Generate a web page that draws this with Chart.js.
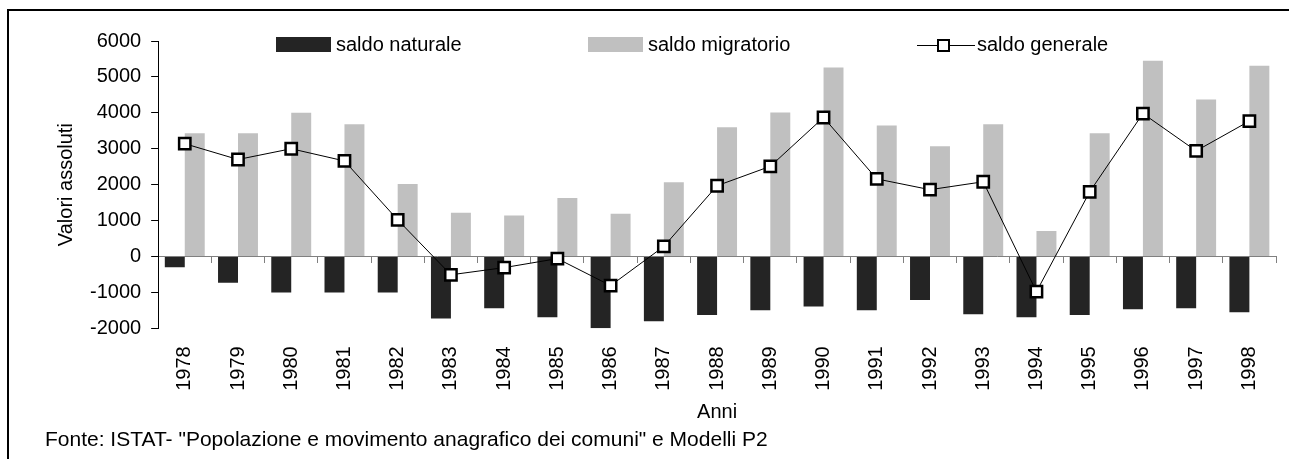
<!DOCTYPE html>
<html>
<head>
<meta charset="utf-8">
<script src="https://cdn.jsdelivr.net/npm/chart.js@4.4.1/dist/chart.umd.min.js"></script>
<style>
  body { margin: 0; background: #fff; }
  #wrap { position: relative; width: 1289px; height: 459px; overflow: hidden; background: #fff; }
  #cornice { position: absolute; left: 7px; top: 9px; width: 1400px; height: 600px; border: 2px solid #000; pointer-events: none; }
  .leg-item { position: absolute; top: 0; font-family: "Liberation Sans", Arial, sans-serif; font-size: 20px; color: #000; }
  .leg-box { position: absolute; top: 37px; width: 55px; height: 15px; }
  .leg-line { position: absolute; top: 45px; width: 58px; height: 1px; background: #000; }
  .leg-mark { position: absolute; top: 39px; left: 20px; width: 9px; height: 9px; border: 2.5px solid #000; background: #fff; }
  .leg-text { position: absolute; top: 34px; line-height: 20px; white-space: nowrap; }
</style>
</head>
<body>
<div id="wrap">
  <canvas id="grafico" width="1289" height="459"></canvas>
  <div id="legenda"></div>
  <div id="cornice"></div>
</div>
<script>
// dati
const anni = ['1978', '1979', '1980', '1981', '1982', '1983', '1984', '1985', '1986', '1987', '1988',
              '1989', '1990', '1991', '1992', '1993', '1994', '1995', '1996', '1997', '1998'];
const saldoNaturale = [-300, -730, -1000, -1000, -1000, -1730, -1440, -1690, -2000, -1800, -1630,
                       -1500, -1390, -1500, -1210, -1610, -1690, -1630, -1470, -1440, -1550];
const saldoMigratorio = [3430, 3430, 4000, 3680, 2020, 1220, 1140, 1630, 1190, 2070, 3600,
                         4010, 5260, 3650, 3070, 3680, 710, 3430, 5450, 4370, 5310];
const saldoGenerale = [3140, 2700, 3000, 2660, 1020, -510, -310, -60, -810, 280, 1970,
                       2510, 3870, 2160, 1860, 2080, -980, 1800, 3980, 2940, 3770];
const fonte = 'Fonte: ISTAT- "Popolazione e movimento anagrafico dei comuni" e Modelli P2';

Chart.defaults.font.family = '"Liberation Sans", Arial, sans-serif';
Chart.defaults.font.size = 20;
Chart.defaults.color = '#000';

const ctx = document.getElementById('grafico').getContext('2d');
const grafico = new Chart(ctx, {
    type: 'bar',
    data: {
        labels: anni,
        datasets: [
            {
                label: 'saldo naturale',
                data: saldoNaturale,
                backgroundColor: '#242424',
                borderWidth: 0,
                categoryPercentage: 0.75,
                barPercentage: 1,
                order: 1
            },
            {
                label: 'saldo migratorio',
                data: saldoMigratorio,
                backgroundColor: '#c0c0c0',
                borderWidth: 0,
                categoryPercentage: 0.75,
                barPercentage: 1,
                order: 1
            },
            {
                type: 'line',
                label: 'saldo generale',
                data: saldoGenerale,
                borderColor: '#000',
                borderWidth: 1,
                tension: 0,
                pointStyle: 'rect',
                pointRadius: 8,
                pointBorderWidth: 2.5,
                pointBackgroundColor: '#fff',
                pointBorderColor: '#000',
                order: 0
            }
        ]
    },
    options: {
        responsive: false,
        animation: false,
        devicePixelRatio: 1,
        layout: { padding: { left: 45, right: 13, top: 41, bottom: 6 } },
        plugins: {
            legend: { display: false },
            tooltip: { enabled: false },
            subtitle: {
                display: true,
                text: fonte,
                position: 'bottom',
                align: 'start',
                font: { size: 21, weight: 'normal' },
                padding: { top: 3, bottom: 0 }
            }
        },
        scales: {
            x: {
                grid: { display: false, drawTicks: true, tickLength: 8 },
                border: { display: false },
                ticks: { minRotation: 90, maxRotation: 90, autoSkip: false, padding: 10 },
                title: { display: true, text: 'Anni', padding: { top: 0, bottom: 0 } }
            },
            asseZero: {
                axis: 'x',
                type: 'category',
                position: { y: 0 },
                offset: true,
                grid: { offset: true, drawOnChartArea: false, color: '#808080', tickLength: 6 },
                border: { color: '#808080' },
                ticks: { display: false }
            },
            y: {
                min: -2000,
                max: 6000,
                ticks: { stepSize: 1000, padding: 10, callback: v => String(v) },
                grid: { drawOnChartArea: false, color: '#000', tickLength: 7 },
                border: { color: '#000' },
                title: { display: true, text: 'Valori assoluti', padding: { top: 9, bottom: 2 } }
            }
        }
    }
});

// legenda HTML costruita dai dataset
const posLegenda = [276, 588, 917];
const legenda = document.getElementById('legenda');
grafico.data.datasets.forEach((ds, i) => {
    const item = document.createElement('div');
    item.className = 'leg-item';
    item.style.left = posLegenda[i] + 'px';
    if (ds.type === 'line') {
        item.innerHTML = '<div class="leg-line" style="left:0"></div><div class="leg-mark"></div>' +
            '<div class="leg-text" style="left:60px">' + ds.label + '</div>';
    } else {
        item.innerHTML = '<div class="leg-box" style="left:0;background:' + ds.backgroundColor + '"></div>' +
            '<div class="leg-text" style="left:60px">' + ds.label + '</div>';
    }
    legenda.appendChild(item);
});
</script>
</body>
</html>
